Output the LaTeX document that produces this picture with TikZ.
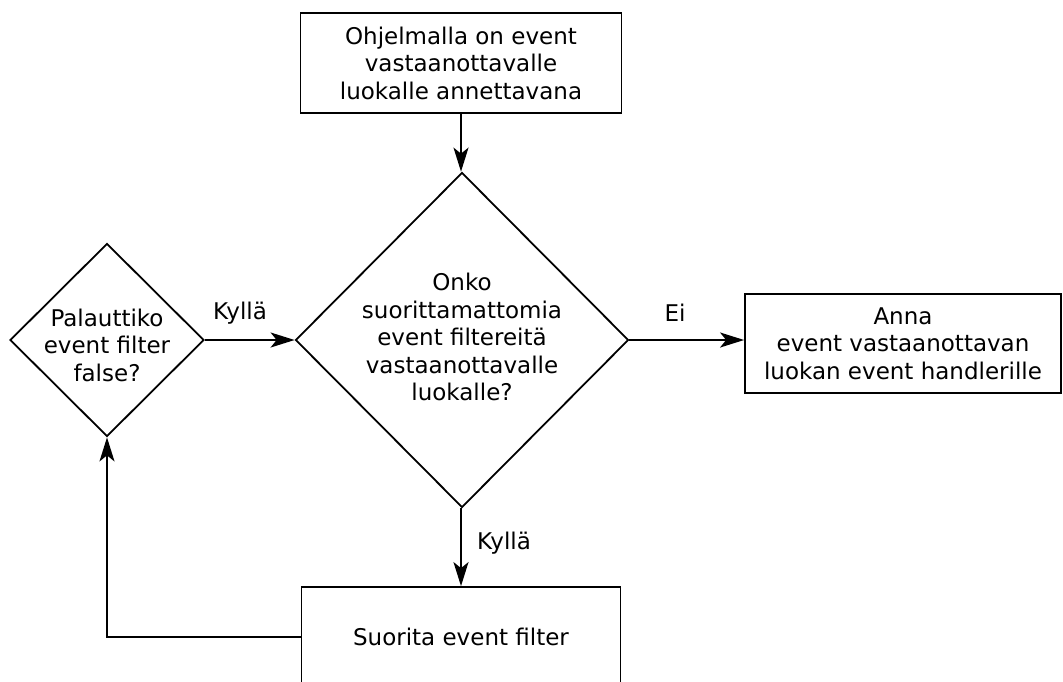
\documentclass[tikz,border=0pt]{standalone}
\usepackage{fontspec}
\setmainfont{DejaVu Sans}
\usetikzlibrary{shapes.geometric,arrows.meta}
\begin{document}
\begin{tikzpicture}[x=1pt,y=-1pt,
  every node/.style={font=\fontsize{23}{27.5}\selectfont},
  box/.style={draw, rectangle, line width=1.8pt, inner sep=0pt, align=center},
  dia/.style={draw, diamond, line width=1.8pt, inner sep=0pt},
  txt/.style={align=center, inner sep=0pt},
  arr/.style={line width=1.8pt, -{Stealth[length=24pt,width=15pt,inset=6pt]}},
  lbl/.style={inner sep=0pt}]
\useasboundingbox (0,0) rectangle (1063,681);
\clip (0,0) rectangle (1063,681);
% boxes
\node[box, minimum width=321pt, minimum height=100pt] (top) at (461,63)
  {Ohjelmalla on event\\vastaanottavalle\\luokalle annettavana};
\node[box, minimum width=316pt, minimum height=99pt] (right) at (903,343.5)
  {Anna\\event vastaanottavan\\luokan event handlerille};
\node[box, minimum width=319pt, minimum height=100pt] (bot) at (461,637)
  {Suorita event filter};
% diamonds
\node[dia, minimum width=333pt, minimum height=335pt] (big) at (462,340) {};
\node[txt] (bigtxt) at (462,337)
  {Onko\\suorittamattomia\\event filtereitä\\vastaanottavalle\\luokalle?};
\node[dia, minimum width=194pt, minimum height=193pt] (small) at (107,340) {};
\node[txt] (smalltxt) at (107,345)
  {Palauttiko\\event filter\\false?};
% labels
\node[lbl] (k1) at (240,313) {Kyllä};
\node[lbl] (ei) at (675,313) {Ei};
\node[lbl] (k2) at (504,543) {Kyllä};
% connectors
\draw[arr] (top.south) -- (top.south |- big.north);
\draw[arr] (big.east) -- (right.west |- big.east);
\draw[arr] (big.south -| top.south) -- (bot.north);
\draw[arr] (small.east) -- (big.west);
\draw[arr] (bot.west) -| (small.south);
\end{tikzpicture}
\end{document}
